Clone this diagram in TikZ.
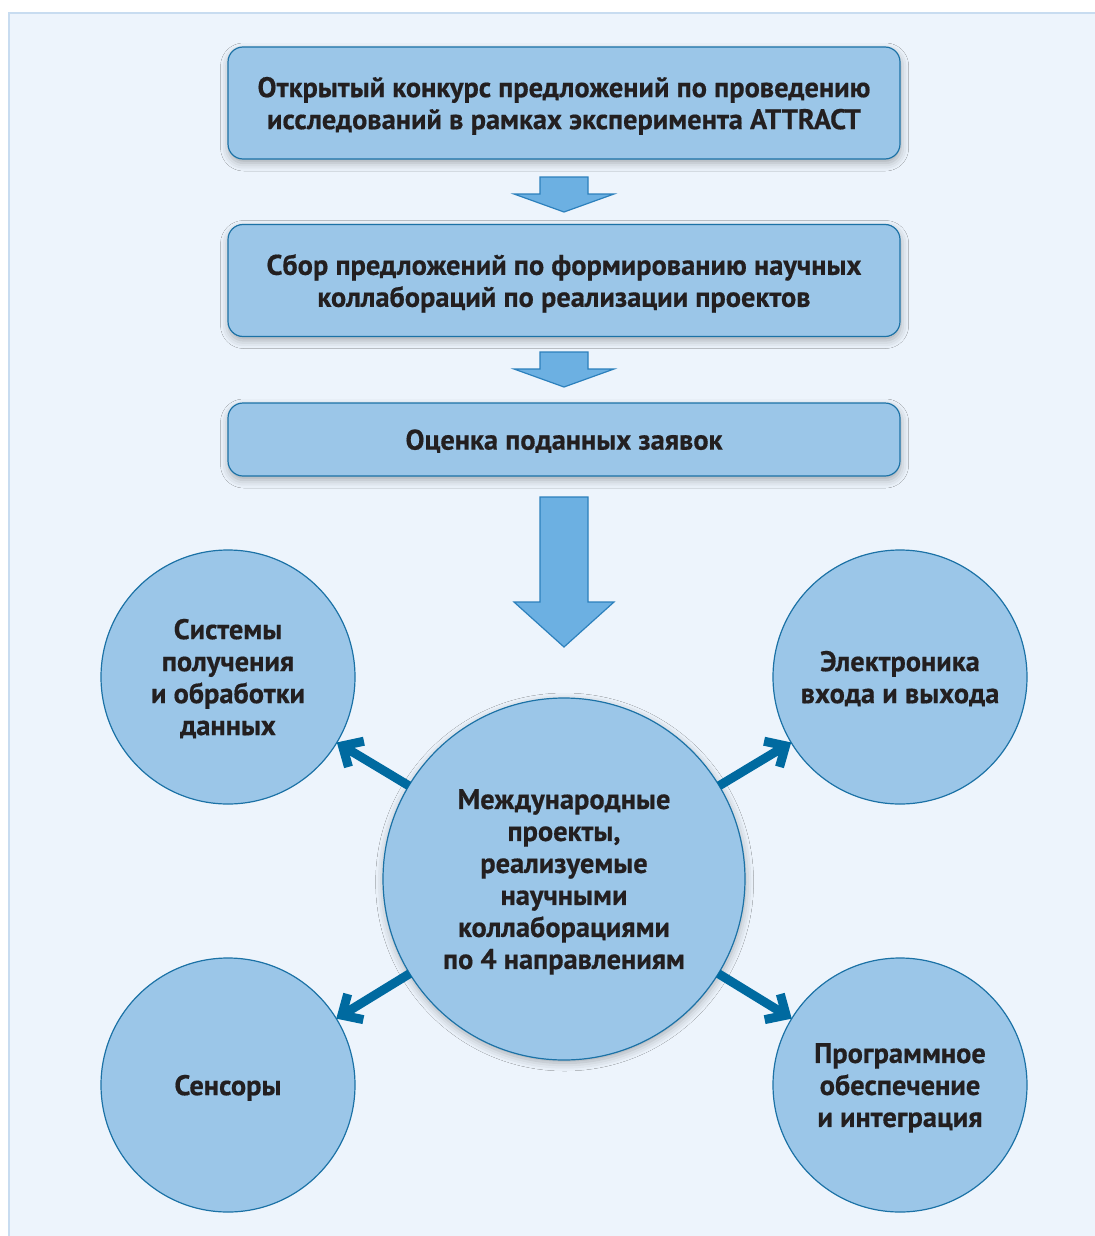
\documentclass[tikz,border=0pt]{standalone}
\usepackage{fontspec}
\setmainfont{PT Sans}[BoldFeatures={FakeBold=0.5}]
\usepackage{tikz}
\usetikzlibrary{shadows,shadows.blur,arrows.meta}

\definecolor{panelbg}{HTML}{EDF4FC}
\definecolor{panelline}{HTML}{C8DCF0}
\definecolor{boxfill}{HTML}{9BC6E8}
\definecolor{boxline}{HTML}{1C72A6}
\definecolor{arrowfill}{HTML}{6CB0E2}
\definecolor{arrowline}{HTML}{2C80BC}
\definecolor{linkcol}{HTML}{006AA0}
\definecolor{txt}{HTML}{231F20}

\begin{document}
\begin{tikzpicture}[x=0.5pt,y=-0.5pt,
   label font/.style={font=\fontsize{14.2}{16}\selectfont\bfseries, text=txt, align=center, text depth=0pt},
   stepbox/.style={label font, draw=boxline, fill=boxfill, line width=0.6pt,
      rounded corners=7.5pt, minimum width=336pt, minimum height=56pt, outer sep=0pt,
      blur shadow={shadow xshift=0.3pt, shadow yshift=-2pt, shadow blur radius=4pt, shadow opacity=30}},
   area/.style={label font, circle, draw=boxline, fill=boxfill, line width=0.6pt,
      minimum size=127pt, inner sep=0pt, outer sep=0pt},
   hub/.style={area, minimum size=181pt,
      blur shadow={shadow xshift=0.3pt, shadow yshift=-1.5pt, shadow blur radius=4pt, shadow opacity=30}},
   flowarrow/.style={fill=arrowfill, draw=arrowline, line width=0.6pt},
   link/.style={draw=linkcol, line width=4.5pt, -{Straight Barb[length=8pt, width=15pt]}}]

   % page and panel
   \useasboundingbox (0,0) rectangle (1094,1236);
   \fill[white] (0,0) rectangle (1094,1236);
   \draw[fill=panelbg, draw=panelline, line width=1pt] (9,13) rectangle (1110,1250);

   % stages
   \node[stepbox] (open) at (564,103) {Открытый конкурс предложений по проведению\\исследований в рамках эксперимента ATTRACT};
   \node[stepbox] (collect) at (564,280.5) {Сбор предложений по формированию научных\\коллабораций по реализации проектов};
   \node[stepbox, minimum height=36.5pt] (review) at (564,439.5) {Оценка поданных заявок};

   % block arrows between stages
   \foreach \y in {177,352}
      \draw[flowarrow] (540,\y) -- (588,\y) -- (588,\y+17) -- (614,\y+17) -- (564,\y+35) -- (514,\y+17) -- (540,\y+17) -- cycle;
   \draw[flowarrow] (540,497) -- (588,497) -- (588,602) -- (614,602) -- (564,647) -- (514,602) -- (540,602) -- cycle;

   % directions
   \node[area] (systems) at (228,677) {Системы\\получения\\и обработки\\данных};
   \node[area] (electronics) at (900,677) {Электроника\\входа и выхода};
   \node[area] (sensors) at (228,1085) {Сенсоры};
   \node[area] (software) at (900,1085) {Программное\\обеспечение\\и интеграция};
   \node[hub] (projects) at (564,879) {Международные\\проекты,\\реализуемые\\научными\\коллаборациями\\по 4 направлениям};

   \foreach \t in {systems,electronics,sensors,software}
      \draw[link] (projects) -- (\t);
\end{tikzpicture}
\end{document}
